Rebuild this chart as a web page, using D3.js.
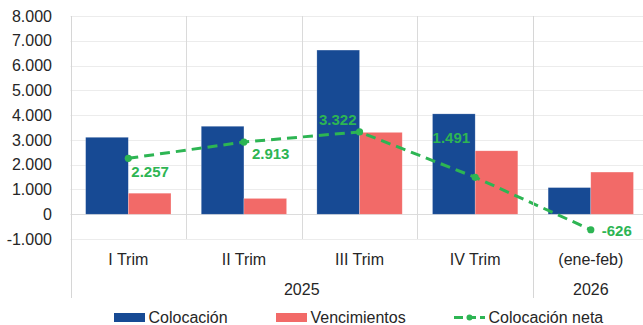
<!DOCTYPE html>
<html>
<head>
<meta charset="utf-8">
<script src="https://cdn.jsdelivr.net/npm/d3@7"></script>
<style>
  html, body { margin: 0; padding: 0; background: #fff; }
  svg { display: block; font-family: "Liberation Sans", Arial, sans-serif; }
</style>
</head>
<body>
<svg id="chart" width="643" height="325"></svg>
<script>
// Quarterly categories and the year each belongs to
const categories = ["I Trim", "II Trim", "III Trim", "IV Trim", "(ene-feb)"];
const years = [
  { label: "2025", from: 0, to: 4 },
  { label: "2026", from: 4, to: 5 }
];
// Series values
const colocacion = [3105, 3550, 6625, 4050, 1075];
const vencimientos = [848, 637, 3303, 2559, 1701];
const colocacionNeta = [2257, 2913, 3322, 1491, -626];
const yTicks = [-1000, 0, 1000, 2000, 3000, 4000, 5000, 6000, 7000, 8000];
const seriesNames = ["Colocación", "Vencimientos", "Colocación neta"];

const colors = { colocacion: "#174A94", vencimientos: "#F26A68", neta: "#2DB553" };

const svg = d3.select("#chart");
// Spanish number style: dot as thousands separator, plain hyphen for negatives
const fmt = v => d3.format(",")(v).replace(/,/g, ".").replace("\u2212", "-");

const plot = { left: 70.5, right: 648.6, top: 16, bottom: 239 };

const x = d3.scaleBand().domain(categories).range([plot.left, plot.right]).paddingInner(0).paddingOuter(0);
const bw = x.bandwidth();
const xs = d3.scaleBand().domain([0, 1]).range([bw * 0.131, bw * 0.869]).padding(0);
const y = d3.scaleLinear().domain([-1000, 8000]).range([plot.bottom, plot.top]);

// Horizontal gridlines
svg.append("g").selectAll("line").data(yTicks).join("line")
  .attr("x1", plot.left).attr("x2", 643)
  .attr("y1", d => Math.round(y(d)) + 0.5).attr("y2", d => Math.round(y(d)) + 0.5)
  .attr("stroke", d => d === 0 ? "#dcdcdc" : "#ececec").attr("stroke-width", 1.2);

// Vertical separators between quarters within the plot area
svg.append("g").selectAll("line").data(categories.slice(1)).join("line")
  .attr("x1", d => Math.round(x(d)) + 0.5).attr("x2", d => Math.round(x(d)) + 0.5)
  .attr("y1", plot.top).attr("y2", plot.bottom)
  .attr("stroke", "#dadada").attr("stroke-width", 1);

// Y axis tick labels
const yAxis = d3.axisLeft(y).tickValues(yTicks).tickFormat(fmt).tickSize(0).tickPadding(0);
const yg = svg.append("g").attr("transform", "translate(52,0)").call(yAxis);
yg.select(".domain").remove();
yg.selectAll("text").attr("font-size", 16).attr("fill", "#262626")
  .attr("font-family", "Liberation Sans, Arial, sans-serif");

// Bars
const barData = categories.map((c, i) => [
  { c, k: 0, v: colocacion[i], color: colors.colocacion },
  { c, k: 1, v: vencimientos[i], color: colors.vencimientos }
]).flat();
svg.append("g").selectAll("rect").data(barData).join("rect")
  .attr("x", d => x(d.c) + xs(d.k))
  .attr("width", xs.bandwidth())
  .attr("y", d => y(Math.max(0, d.v)))
  .attr("height", d => Math.abs(y(d.v) - y(0)))
  .attr("fill", d => d.color)
  .attr("stroke", "#ffffff").attr("stroke-opacity", 0.35).attr("stroke-width", 0.6);

// Net placement line
const netPts = categories.map((c, i) => ({ c, v: colocacionNeta[i], cx: x(c) + bw / 2, cy: y(colocacionNeta[i]) }));
svg.append("path")
  .datum(netPts)
  .attr("d", d3.line().x(d => d.cx).y(d => d.cy))
  .attr("fill", "none").attr("stroke", colors.neta)
  .attr("stroke-width", 3).attr("stroke-dasharray", "10,6");
svg.append("g").selectAll("circle").data(netPts).join("circle")
  .attr("cx", d => d.cx).attr("cy", d => d.cy).attr("r", 3.6).attr("fill", colors.neta);

// Net value labels, placed around each point
const labelPlacement = [
  { dx: 3, dy: 18.5, anchor: "start" },
  { dx: 8, dy: 16.5, anchor: "start" },
  { dx: -3, dy: -7, anchor: "end" },
  { dx: -5, dy: -34, anchor: "end" },
  { dx: 11, dy: 6, anchor: "start" }
];
svg.append("g").selectAll("text").data(netPts).join("text")
  .attr("x", (d, i) => d.cx + labelPlacement[i].dx)
  .attr("y", (d, i) => d.cy + labelPlacement[i].dy)
  .attr("text-anchor", (d, i) => labelPlacement[i].anchor)
  .attr("font-size", 15).attr("font-weight", "bold").attr("fill", colors.neta)
  .text(d => fmt(d.v));

// Category axis: quarter labels and year labels
svg.append("g").selectAll("text").data(categories).join("text")
  .attr("x", d => x(d) + bw / 2).attr("y", 265)
  .attr("text-anchor", "middle").attr("font-size", 16).attr("fill", "#262626")
  .text(d => d);

svg.append("g").selectAll("text").data(years).join("text")
  .attr("x", d => (x(categories[d.from]) + x(categories[d.to - 1]) + bw) / 2).attr("y", 295)
  .attr("text-anchor", "middle").attr("font-size", 16).attr("fill", "#262626")
  .text(d => d.label);

// Year group separators (left edge and between years)
const groupEdges = [x(categories[0]), x(categories[years[1].from])];
svg.append("g").selectAll("line").data(groupEdges).join("line")
  .attr("x1", d => Math.round(d) + 0.5).attr("x2", d => Math.round(d) + 0.5)
  .attr("y1", plot.top).attr("y2", 298)
  .attr("stroke", "#d6d6d6").attr("stroke-width", 1);

// Legend
const legend = svg.append("g");
const legendItems = [
  { name: seriesNames[0], type: "rect", color: colors.colocacion, x: 114 },
  { name: seriesNames[1], type: "rect", color: colors.vencimientos, x: 276 },
  { name: seriesNames[2], type: "line", color: colors.neta, x: 454 }
];
legendItems.forEach(it => {
  if (it.type === "rect") {
    legend.append("rect").attr("x", it.x).attr("y", 313).attr("width", 31).attr("height", 9).attr("fill", it.color);
  } else {
    legend.append("line").attr("x1", it.x).attr("x2", it.x + 31).attr("y1", 317.5).attr("y2", 317.5)
      .attr("stroke", it.color).attr("stroke-width", 3).attr("stroke-dasharray", "9,4");
    legend.append("circle").attr("cx", it.x + 15.5).attr("cy", 317.5).attr("r", 3).attr("fill", it.color);
  }
  legend.append("text").attr("x", it.x + 34.5).attr("y", 323)
    .attr("font-size", 16).attr("fill", "#262626").text(it.name);
});
</script>
</body>
</html>
